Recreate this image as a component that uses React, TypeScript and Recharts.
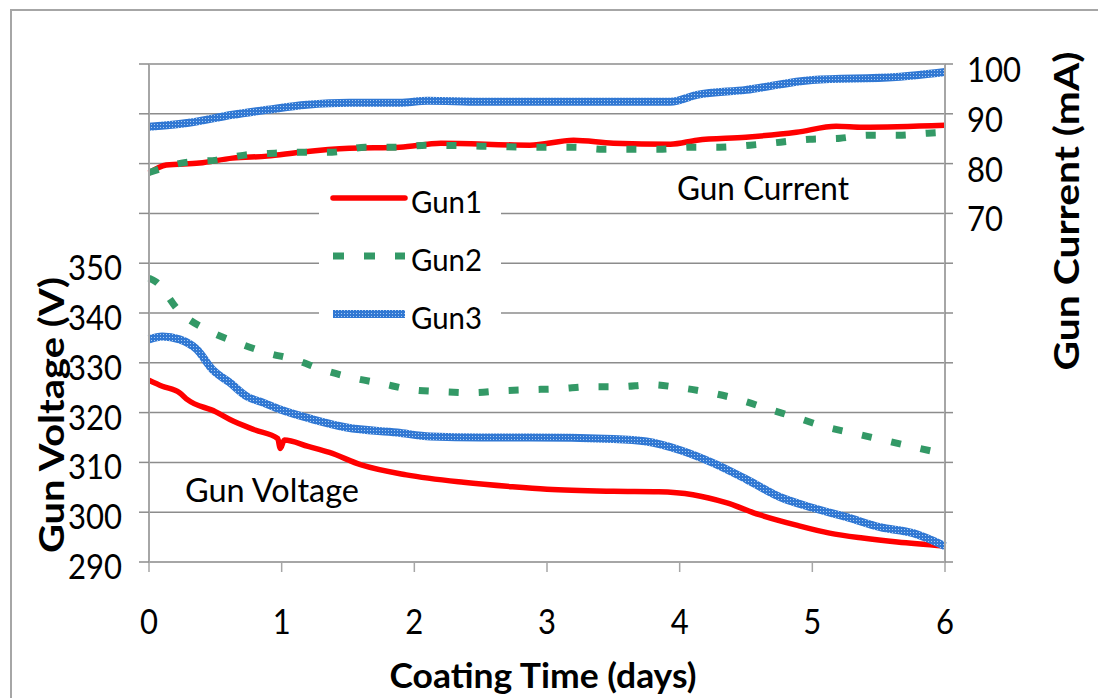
import { CartesianGrid, Legend, Line, LineChart, XAxis, YAxis } from "recharts";

const FONT = "Lato, 'Open Sans', sans-serif";
const GRID = "#8c8c8c";
const AXIS = "#a6a6a6";

const dayTicks = [0, 1, 2, 3, 4, 5, 6];
const voltageTicks = [290, 300, 310, 320, 330, 340, 350, 360, 370, 380, 390];
const currentTicks = [0, 10, 20, 30, 40, 50, 60, 70, 80, 90, 100];

// voltage (V)
const gun1VoltageDays = [0, 0.1, 0.23, 0.29, 0.5, 0.61, 0.8, 0.97, 0.99, 1.02, 1.2, 1.36, 1.6, 1.94, 2.37, 2.74, 3.0, 3.5, 3.84, 4.1, 4.35, 4.6, 4.88, 5.13, 5.38, 5.64, 6.0];
const gun1Voltage = [326.5, 325.3, 324, 322.6, 320.2, 318.6, 316.5, 314.8, 312.8, 314.5, 313.2, 312, 309.5, 307.5, 306, 305.1, 304.6, 304.2, 304.1, 303.5, 301.9, 299.5, 297.4, 295.8, 294.8, 294, 293.2];

const gun2VoltageDays = [0, 0.05, 0.23, 0.46, 0.67, 0.89, 1.1, 1.31, 1.53, 1.76, 1.98, 2.21, 2.44, 2.67, 2.87, 3.1, 3.32, 3.55, 3.78, 4.0, 4.23, 4.45, 4.66, 4.88, 5.09, 5.32, 5.53, 5.76, 6.0];
const gun2Voltage = [347, 346.3, 340.3, 336.3, 334, 332, 330.6, 328.6, 327, 325.8, 324.6, 324.2, 324, 324.4, 324.6, 324.8, 325.2, 325.2, 325.6, 325, 324, 322.6, 320.8, 319, 317.2, 315.8, 314.5, 313.1, 311.7];

const gun3VoltageDays = [0, 0.1, 0.23, 0.36, 0.48, 0.61, 0.74, 0.86, 0.99, 1.24, 1.49, 1.87, 2.12, 2.5, 2.87, 3.5, 3.75, 4.0, 4.25, 4.51, 4.76, 5.0, 5.26, 5.51, 5.76, 6.0];
const gun3Voltage = [334.7, 335.3, 334.7, 332.7, 328.6, 326, 323.2, 322, 320.6, 318.6, 317, 316, 315.2, 315, 315, 314.7, 314.2, 312.5, 309.9, 306.5, 303, 300.9, 299, 297, 295.8, 293.2];

// current (mA)
const gun1CurrentDays = [0, 0.13, 0.38, 0.63, 0.89, 1.14, 1.51, 1.89, 2.2, 2.87, 3.2, 3.5, 3.93, 4.13, 4.5, 4.88, 5.18, 5.38, 6.0];
const gun1Current = [78.1, 79.7, 80.1, 81.1, 81.5, 82.3, 83.1, 83.3, 84.1, 83.7, 84.7, 84.1, 83.9, 84.7, 85.3, 86.3, 87.5, 87.3, 87.7];

const gun2CurrentDays = [0, 0.29, 0.51, 0.72, 0.95, 1.17, 1.38, 1.63, 1.85, 2.1, 2.5, 2.97, 3.21, 3.42, 3.64, 3.87, 4.08, 4.3, 4.53, 4.76, 4.98, 5.21, 5.42, 5.65, 5.87, 6.0];
const gun2Current = [78.2, 80.3, 80.7, 81.7, 82.1, 82.3, 82.3, 83.3, 83.3, 83.7, 83.5, 83.3, 83.3, 82.9, 82.9, 82.9, 83.3, 83.3, 83.7, 84.3, 84.9, 85.1, 85.7, 85.7, 86.1, 86.3];

const gun3CurrentDays = [0, 0.3, 0.63, 0.89, 1.19, 1.51, 1.89, 2.1, 2.5, 2.87, 3.38, 3.93, 4.13, 4.5, 5.0, 5.63, 6.0];
const gun3Current = [87.4, 88.2, 89.8, 90.8, 91.8, 92.2, 92.2, 92.6, 92.4, 92.4, 92.4, 92.4, 93.8, 94.8, 96.8, 97.4, 98.4];

function toPoints(days: number[], values: number[]) {
  return days.map((day, i) => ({ day, value: values[i] }));
}

const RED = { stroke: "#ff0000", strokeWidth: 5.5 };
const GREEN = { stroke: "#339966", strokeWidth: 7, strokeDasharray: "10 20" };
const BLUE = { stroke: "url(#gun3Texture)", strokeWidth: 8 };

// the original font is a narrow one, so text is squeezed to its measured width
const narrow = (width: number) => ({ textLength: width, lengthAdjust: "spacingAndGlyphs" as const });
const tickWidth = (value: number) => String(value).length * 18;

function VoltageTick({ x, y, payload }: any) {
  if (payload.value > 350) return null;
  return (
    <text x={x - 15} y={y + 3} textAnchor="end" dominantBaseline="central" fontFamily={FONT} fontSize={35} fill="#000" {...narrow(tickWidth(payload.value))}>
      {payload.value}
    </text>
  );
}

function CurrentTick({ x, y, payload }: any) {
  if (payload.value < 70) return null;
  return (
    <text x={x + 12} y={y + 4} textAnchor="start" dominantBaseline="central" fontFamily={FONT} fontSize={35} fill="#000" {...narrow(tickWidth(payload.value))}>
      {payload.value}
    </text>
  );
}

function DayTick({ x, y, payload }: any) {
  return (
    <text x={x} y={y + 46} textAnchor="middle" dominantBaseline="central" fontFamily={FONT} fontSize={35} fill="#000" {...narrow(tickWidth(payload.value))}>
      {payload.value}
    </text>
  );
}

function LegendBox({ payload }: any) {
  const items = (payload || []).filter((p: any) => p.type !== "none");
  return (
    <svg width={182} height={158} style={{ display: "block", background: "#fff" }}>
      <defs>
        <pattern id="gun3LegendTexture" width="3" height="3" patternUnits="userSpaceOnUse">
          <rect width="3" height="3" fill="#3178d3" />
          <rect x="1" y="1" width="1" height="1" fill="#a9cbf1" />
        </pattern>
      </defs>
      {items.map((entry: any, i: number) => {
        const cy = 21 + i * 58;
        const p = entry.payload || {};
        const dashed = Boolean(p.strokeDasharray);
        const textured = String(p.stroke).startsWith("url");
        return (
          <g key={entry.value}>
            <line
              x1={14}
              x2={86}
              y1={cy}
              y2={cy}
              stroke={textured ? "url(#gun3LegendTexture)" : p.stroke}
              strokeWidth={p.strokeWidth}
              strokeDasharray={dashed ? "11 20" : undefined}
              strokeLinecap={dashed || textured ? "butt" : "round"}
            />
            <text x={92} y={cy + 3} dominantBaseline="central" fontFamily={FONT} fontSize={31} fill="#000" {...narrow(71)}>
              {entry.value}
            </text>
          </g>
        );
      })}
    </svg>
  );
}

export default function App() {
  return (
    <div style={{ position: "absolute", left: 0, top: 0, width: 1098, height: 698, overflow: "hidden", background: "#fff" }}>
      <div
        style={{
          position: "absolute",
          left: 10,
          top: 9,
          width: 1120,
          height: 720,
          border: "2px solid #a6a6a6",
        }}
      />
      <LineChart width={1098} height={698} margin={{ top: 64, right: 0, bottom: 0, left: 0 }} style={{ position: "absolute", left: 0, top: 0 }}>
        <defs>
          <pattern id="gun3Texture" width="3" height="3" patternUnits="userSpaceOnUse">
            <rect width="3" height="3" fill="#3178d3" />
            <rect x="1" y="1" width="1" height="1" fill="#a9cbf1" />
          </pattern>
        </defs>
        <CartesianGrid yAxisId="v" vertical={false} stroke={GRID} strokeWidth={1.5} />
        <XAxis
          dataKey="day"
          type="number"
          domain={[0, 6]}
          ticks={dayTicks}
          height={136}
          tickSize={10}
          axisLine={{ stroke: AXIS, strokeWidth: 2 }}
          tickLine={{ stroke: AXIS, strokeWidth: 1.5 }}
          tick={<DayTick />}
          allowDuplicatedCategory={false}
          label={{
            content: ({ viewBox }: any) => (
              <text
                x={viewBox.x + viewBox.width / 2 - 4}
                y={viewBox.y + 126}
                textAnchor="middle"
                fontFamily={FONT}
                fontWeight="bold"
                fontSize={35}
                fill="#000"
                {...narrow(307)}
              >
                Coating Time (days)
              </text>
            ),
          }}
        />
        <YAxis
          yAxisId="v"
          orientation="left"
          width={149}
          domain={[290, 390]}
          ticks={voltageTicks}
          allowDataOverflow
          tickSize={10}
          axisLine={{ stroke: AXIS, strokeWidth: 2 }}
          tickLine={{ stroke: GRID, strokeWidth: 1.5 }}
          tick={<VoltageTick />}
          label={{
            content: () => (
              <text
                transform="translate(50 415) rotate(-90)"
                textAnchor="middle"
                dominantBaseline="central"
                fontFamily={FONT}
                fontWeight="bold"
                fontSize={35}
                fill="#000"
                {...narrow(276)}
              >
                Gun Voltage (V)
              </text>
            ),
          }}
        />
        <YAxis
          yAxisId="c"
          orientation="right"
          width={153}
          domain={[0, 100]}
          ticks={currentTicks}
          allowDataOverflow
          tickSize={8}
          axisLine={{ stroke: AXIS, strokeWidth: 2 }}
          tickLine={{ stroke: GRID, strokeWidth: 1.5 }}
          tick={<CurrentTick />}
          label={{
            content: () => (
              <text
                transform="translate(1065 211) rotate(-90)"
                textAnchor="middle"
                dominantBaseline="central"
                fontFamily={FONT}
                fontWeight="bold"
                fontSize={35}
                fill="#000"
                {...narrow(319)}
              >
                Gun Current (mA)
              </text>
            ),
          }}
        />
        <Legend
          layout="vertical"
          align="center"
          verticalAlign="middle"
          wrapperStyle={{ left: 319, top: 177, width: 182, height: 158 }}
          content={<LegendBox />}
        />

        <Line yAxisId="c" data={toPoints(gun1CurrentDays, gun1Current)} dataKey="value" name="Gun1 current" legendType="none" type="monotone" dot={false} activeDot={false} isAnimationActive={false} {...RED} strokeLinejoin="round" />
        <Line yAxisId="c" data={toPoints(gun2CurrentDays, gun2Current)} dataKey="value" name="Gun2 current" legendType="none" type="monotone" dot={false} activeDot={false} isAnimationActive={false} {...GREEN} />
        <Line yAxisId="c" data={toPoints(gun3CurrentDays, gun3Current)} dataKey="value" name="Gun3 current" legendType="none" type="monotone" dot={false} activeDot={false} isAnimationActive={false} {...BLUE} />

        <Line yAxisId="v" data={toPoints(gun1VoltageDays, gun1Voltage)} dataKey="value" name="Gun1" type="monotone" dot={false} activeDot={false} isAnimationActive={false} {...RED} strokeLinejoin="round" />
        <Line yAxisId="v" data={toPoints(gun2VoltageDays, gun2Voltage)} dataKey="value" name="Gun2" type="monotone" dot={false} activeDot={false} isAnimationActive={false} {...GREEN} />
        <Line yAxisId="v" data={toPoints(gun3VoltageDays, gun3Voltage)} dataKey="value" name="Gun3" type="monotone" dot={false} activeDot={false} isAnimationActive={false} {...BLUE} />

        <text x={677} y={200} fontFamily={FONT} fontSize={33} fill="#000" {...narrow(172)}>
          Gun Current
        </text>
        <text x={185} y={502} fontFamily={FONT} fontSize={33} fill="#000" {...narrow(174)}>
          Gun Voltage
        </text>
      </LineChart>
    </div>
  );
}
